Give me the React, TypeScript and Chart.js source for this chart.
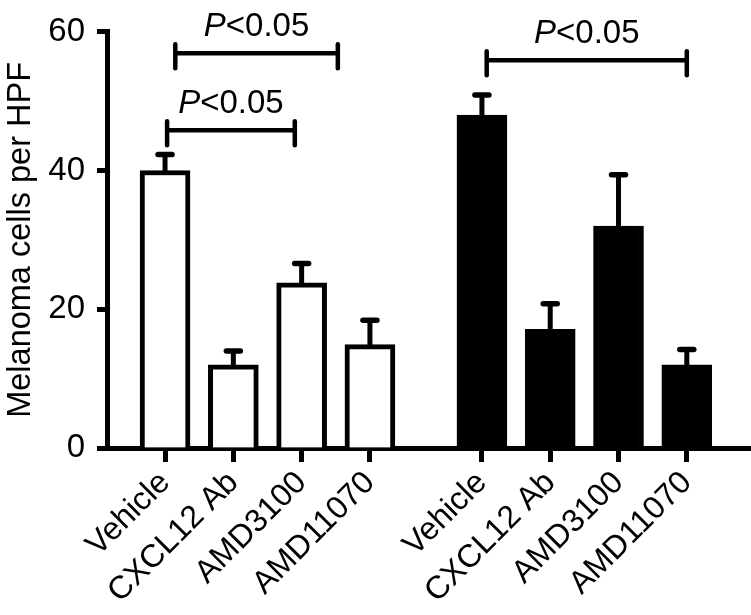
import React, { useEffect, useRef } from 'react';
import { Chart, registerables } from 'chart.js';

Chart.register(...registerables);

// ---- data ----
const categories = ['Vehicle', 'CXCL12 Ab', 'AMD3100', 'AMD11070'];
const whiteMeans = [40, 12, 23.8, 14.9];
const whiteErrors = [2.3, 2.0, 2.8, 3.5];
const blackMeans = [48, 17.1, 32, 12];
const blackErrors = [2.9, 3.7, 7.4, 2.2];
const yTicks = [0, 20, 40, 60];
const yTitle = 'Melanoma cells per HPF';

// significance brackets (x in axis units, level in y units)
const bracketFrom = [1.15, 1.03, 5.71];
const bracketTo = [3.53, 2.9, 8.64];
const bracketLevel = [56.9, 45.8, 55.9];
const bracketItalic = ['P', 'P', 'P'];
const bracketRest = ['<0.05', '<0.05', '<0.05'];

// ---- layout constants ----
const GROUP_START = [1, 5.64];
const X_MIN = 0.15;
const X_MAX = 9.58;
const FONT = '"Liberation Sans", Arial, Helvetica, sans-serif';

const xValues: number[] = [];
const xLabels: string[] = [];
const points: { x: number; y: number }[] = [];
const errs: number[] = [];
const fills: string[] = [];
[whiteMeans, blackMeans].forEach((means, g) => {
  const errors = g === 0 ? whiteErrors : blackErrors;
  means.forEach((m, i) => {
    const xv = GROUP_START[g] + i;
    xValues.push(xv);
    xLabels.push(categories[i]);
    points.push({ x: xv, y: m });
    errs.push(errors[i]);
    fills.push(g === 0 ? '#ffffff' : '#000000');
  });
});

const annotPlugin = {
  id: 'annot',
  afterDatasetsDraw(chart: any) {
    const { ctx } = chart;
    const x = chart.scales.x;
    const y = chart.scales.y;
    ctx.save();
    ctx.strokeStyle = '#000';
    ctx.fillStyle = '#000';
    // error bars
    points.forEach((p, i) => {
      const px = x.getPixelForValue(p.x);
      const top = y.getPixelForValue(p.y);
      const capY = y.getPixelForValue(p.y + errs[i]);
      ctx.lineWidth = 5;
      ctx.lineCap = 'butt';
      ctx.beginPath();
      ctx.moveTo(px, top + 2);
      ctx.lineTo(px, capY);
      ctx.stroke();
      ctx.lineWidth = 5.5;
      ctx.lineCap = 'round';
      ctx.beginPath();
      ctx.moveTo(px - 7, capY);
      ctx.lineTo(px + 7, capY);
      ctx.stroke();
    });
    // brackets
    bracketFrom.forEach((f, i) => {
      const x1 = x.getPixelForValue(f);
      const x2 = x.getPixelForValue(bracketTo[i]);
      const ly = y.getPixelForValue(bracketLevel[i]);
      ctx.lineWidth = 4.5;
      ctx.lineCap = 'butt';
      ctx.beginPath();
      ctx.moveTo(x1, ly);
      ctx.lineTo(x2, ly);
      ctx.stroke();
      ctx.lineCap = 'round';
      [x1, x2].forEach((ex) => {
        ctx.beginPath();
        ctx.moveTo(ex, ly - 9);
        ctx.lineTo(ex, ly + 15);
        ctx.stroke();
      });
      const fI = `italic 33px ${FONT}`;
      const fR = `33px ${FONT}`;
      ctx.font = fI;
      const wI = ctx.measureText(bracketItalic[i]).width;
      ctx.font = fR;
      const wR = ctx.measureText(bracketRest[i]).width;
      const cx = (x1 + x2) / 2;
      const sx = cx - (wI + wR) / 2;
      const ty = ly - 17;
      ctx.textBaseline = 'alphabetic';
      ctx.textAlign = 'left';
      ctx.font = fI;
      ctx.fillText(bracketItalic[i], sx, ty);
      ctx.font = fR;
      ctx.fillText(bracketRest[i], sx + wI, ty);
    });
    ctx.restore();
  },
};

export default function App() {
  const ref = useRef<HTMLCanvasElement>(null);
  useEffect(() => {
    const chart = new Chart(ref.current as HTMLCanvasElement, {
      type: 'bar',
      data: {
        datasets: [
          {
            data: points as any,
            backgroundColor: fills,
            borderColor: '#000',
            borderWidth: 5,
            barThickness: 50,
            borderSkipped: 'start',
          } as any,
        ],
      },
      options: {
        animation: false,
        responsive: false,
        devicePixelRatio: 1,
        layout: { padding: { top: 21, left: 0, right: 0, bottom: 0 } },
        plugins: { legend: { display: false }, tooltip: { enabled: false } },
        scales: {
          x: {
            type: 'linear',
            min: X_MIN,
            max: X_MAX,
            offset: false,
            afterBuildTicks: (s: any) => {
              s.ticks = xValues.map((v) => ({ value: v }));
            },
            afterFit: (s: any) => {
              s.height = 167;
            },
            ticks: {
              callback: (_v: any, i: number) => xLabels[i],
              autoSkip: false,
              maxRotation: 45,
              minRotation: 45,
              color: '#000',
              font: { family: FONT, size: 32 },
              padding: 2,
            },
            grid: {
              offset: false,
              drawOnChartArea: false,
              drawTicks: true,
              tickLength: 14,
              tickWidth: 5,
              tickColor: '#000',
              color: '#000',
            },
            border: { display: true, color: '#000', width: 5 },
          } as any,
          y: {
            min: 0,
            max: 60,
            afterBuildTicks: (s: any) => {
              s.ticks = yTicks.map((v) => ({ value: v }));
            },
            afterFit: (s: any) => {
              s.width = 107;
            },
            ticks: {
              color: '#000',
              font: { family: FONT, size: 33 },
              padding: 12,
            },
            grid: {
              drawOnChartArea: false,
              drawTicks: true,
              tickLength: 10,
              tickWidth: 5,
              tickColor: '#000',
              color: '#000',
            },
            border: { display: true, color: '#000', width: 5 },
            title: {
              display: true,
              text: yTitle,
              color: '#000',
              font: { family: FONT, size: 32.5 },
              padding: { top: 2, bottom: 0 },
            },
          } as any,
        },
      },
      plugins: [annotPlugin],
    });
    return () => chart.destroy();
  }, []);
  return (
    <div style={{ position: 'absolute', left: 0, top: 0, width: 751, height: 615, background: '#fff' }}>
      <canvas ref={ref} width={751} height={615} style={{ display: 'block' }} />
    </div>
  );
}
